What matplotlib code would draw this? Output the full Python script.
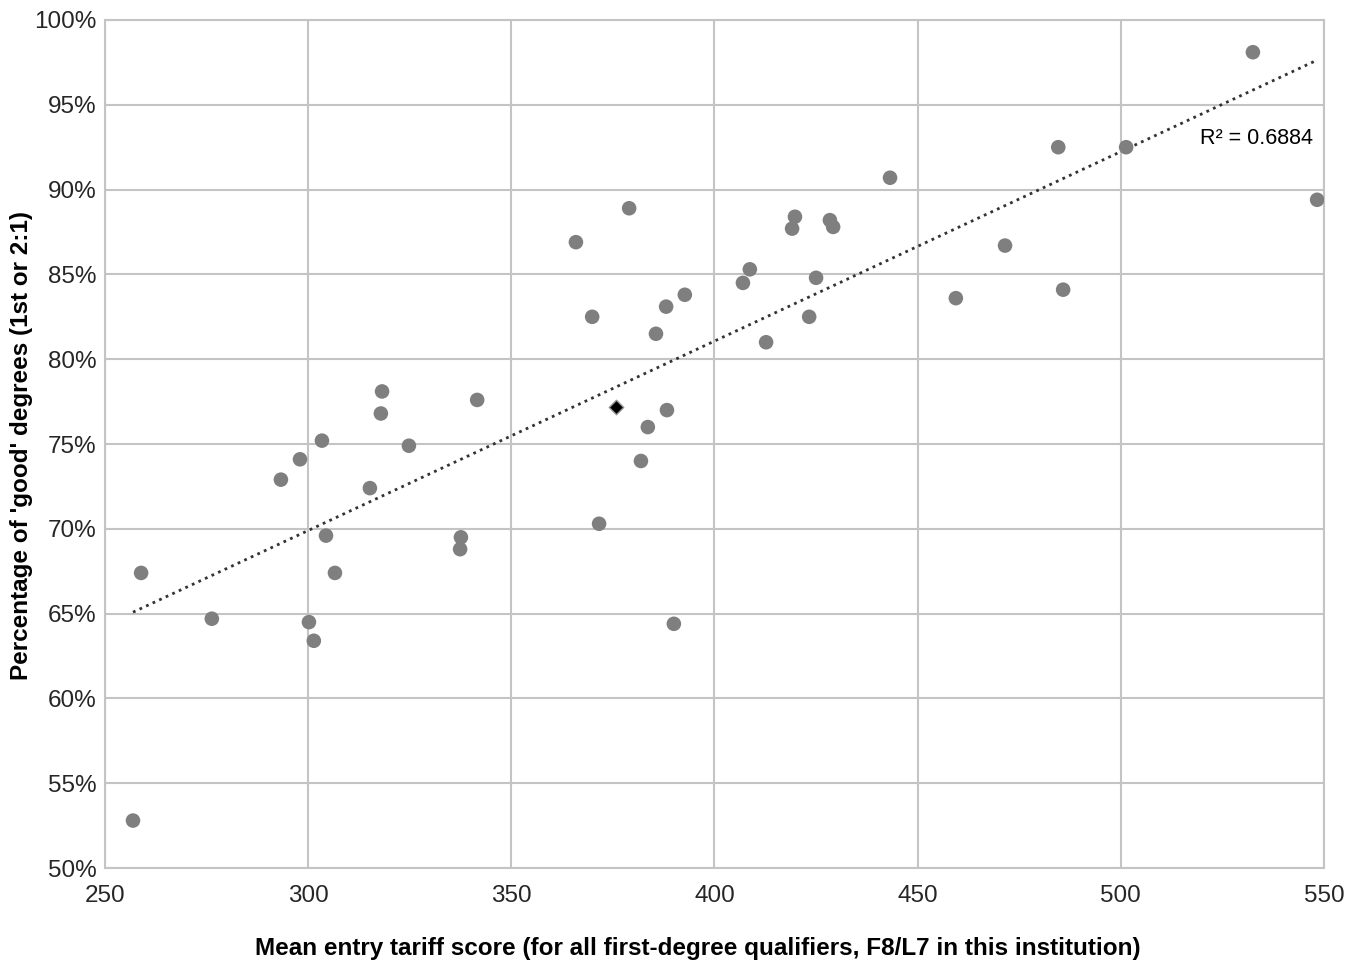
import numpy as np
import matplotlib
matplotlib.use("Agg")
import matplotlib.pyplot as plt
from matplotlib.ticker import FuncFormatter

plt.rcParams['font.family'] = ['Liberation Sans', 'DejaVu Sans']

# Institutions: mean entry tariff vs % good degrees
tariff = [256.9, 258.9, 276.3, 293.3, 298.0, 300.2, 301.4, 303.4, 304.4, 306.6,
          315.2, 318.2, 317.9, 324.8, 337.6, 337.4, 341.6, 365.9, 369.9, 371.6,
          379.0, 381.9, 383.6, 385.6, 388.1, 388.3, 390.0, 392.7, 407.0, 408.7,
          412.7, 419.1, 419.8, 423.3, 425.0, 428.4, 429.2, 443.2, 459.4, 471.5,
          484.6, 485.8, 501.3, 532.5, 548.3]
good_pct = [52.8, 67.4, 64.7, 72.9, 74.1, 64.5, 63.4, 75.2, 69.6, 67.4,
            72.4, 78.1, 76.8, 74.9, 69.5, 68.8, 77.6, 86.9, 82.5, 70.3,
            88.9, 74.0, 76.0, 81.5, 83.1, 77.0, 64.4, 83.8, 84.5, 85.3,
            81.0, 87.7, 88.4, 82.5, 84.8, 88.2, 87.8, 90.7, 83.6, 86.7,
            92.5, 84.1, 92.5, 98.1, 89.4]
# Highlighted institution
this_tariff = [375.8]
this_pct = [77.2]
r2_label = "R² = 0.6884"

fig = plt.figure(figsize=(13.63, 9.66), dpi=100)
ax = fig.add_axes([0.0770, 0.1014, 0.8944, 0.8779])

grid_c = '#c4c4c4'
ax.set_xlim(250, 550)
ax.set_ylim(50, 100)
ax.set_xticks(np.arange(250, 551, 50))
ax.set_yticks(np.arange(50, 101, 5))
ax.grid(True, color=grid_c, linewidth=1.5, zorder=0)
for s in ax.spines.values():
    s.set_color(grid_c)
    s.set_linewidth(1.5)
ax.tick_params(length=0, labelsize=17.5, colors='#262626')
ax.tick_params(axis='y', pad=6)
ax.tick_params(axis='x', pad=12)
ax.yaxis.set_major_formatter(FuncFormatter(lambda v, p: f"{v:.0f}%"))

ax.scatter(tariff, good_pct, s=110, color='#7f7f7f', edgecolors='none', zorder=3)
ax.scatter(this_tariff, this_pct, s=55, marker='D', color='black',
           edgecolors='#9a9a9a', linewidths=1, zorder=4)

# linear trendline
coef = np.polyfit(tariff, good_pct, 1)
xs = np.array([min(tariff), max(tariff)])
ax.plot(xs, np.polyval(coef, xs), linestyle=(0, (1, 1.6)), color='#333333',
        linewidth=2, zorder=2)
ax.text(547.3, 93.0, r2_label, ha='right', va='center', fontsize=15.5, color='black')

fig.text(698 / 1363, 1 - 948 / 966,
         "Mean entry tariff score (for all first-degree qualifiers, F8/L7 in this institution)",
         ha='center', va='center', fontsize=17.5, fontweight='bold')
fig.text(22 / 1363, 1 - 445 / 966, "Percentage of 'good' degrees (1st or 2:1)",
         rotation=90, ha='center', va='center', fontsize=17.5, fontweight='bold')

fig.savefig("out.png", dpi=100)
